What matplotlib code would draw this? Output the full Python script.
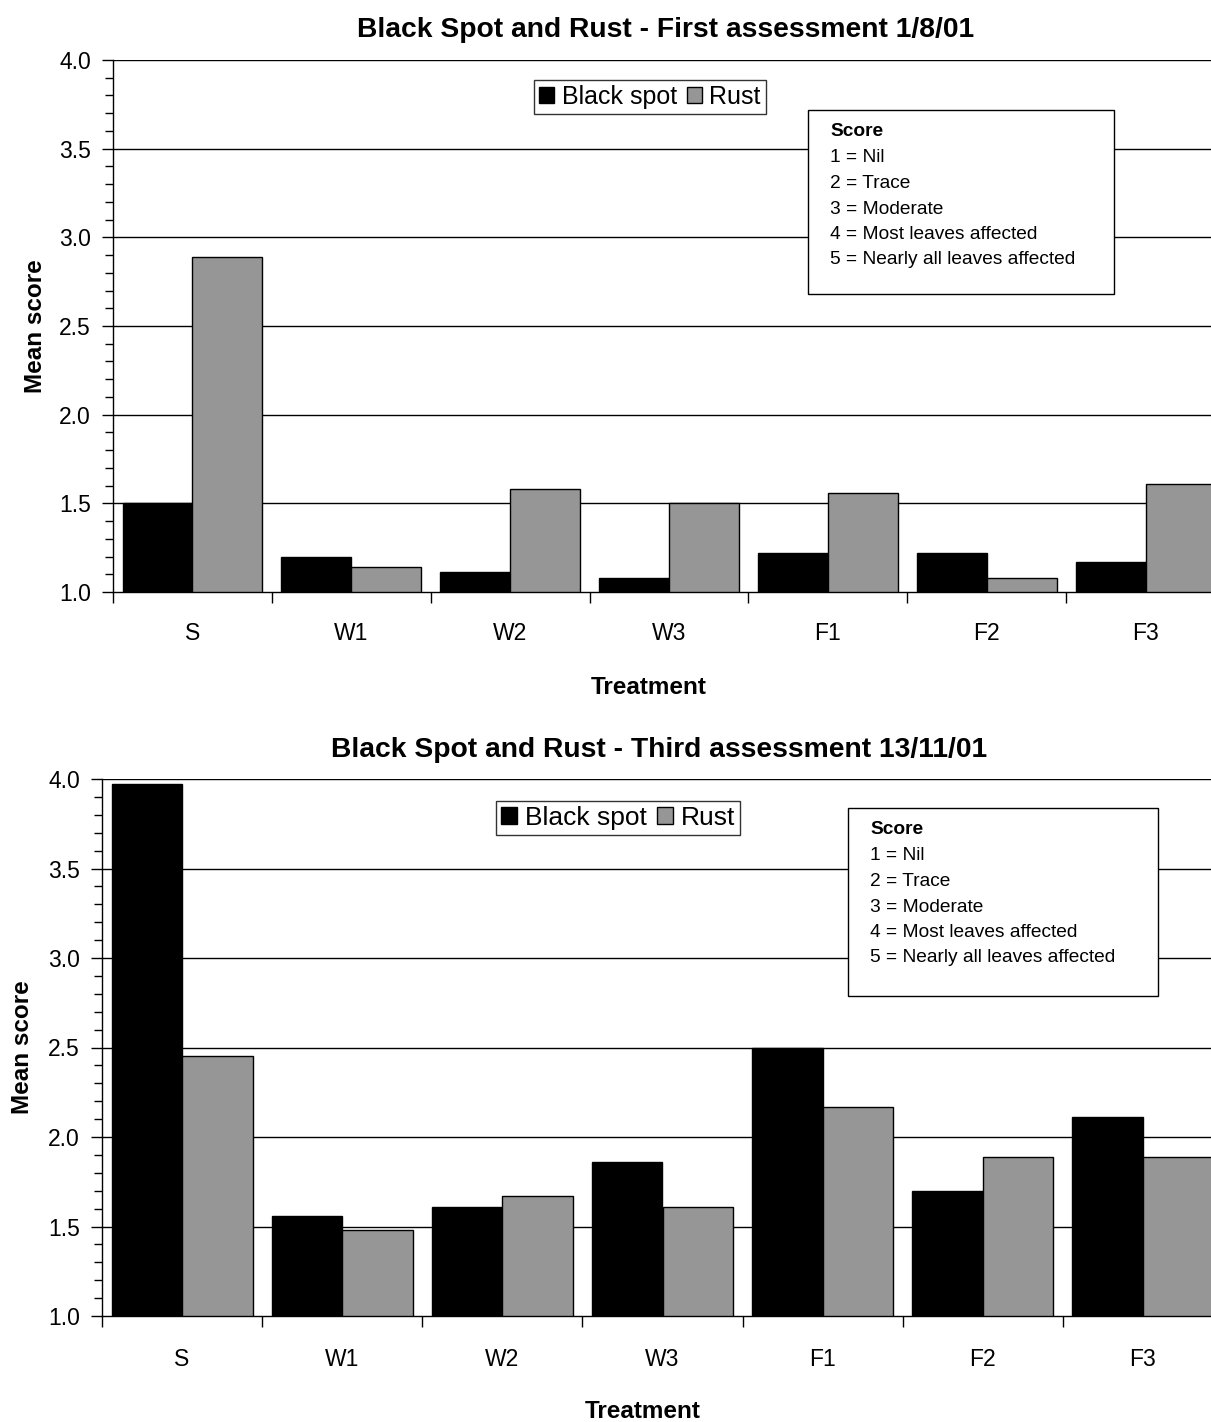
import matplotlib
matplotlib.use("Agg")
import matplotlib.pyplot as plt
import numpy as np
from matplotlib.patches import Rectangle, Patch
from matplotlib.ticker import MultipleLocator, FormatStrFormatter

plt.rcParams['font.family'] = ['Liberation Sans', 'DejaVu Sans']

treatments = ["S", "W1", "W2", "W3", "F1", "F2", "F3"]

first_black_spot = [1.50, 1.20, 1.11, 1.08, 1.22, 1.22, 1.17]
first_rust = [2.89, 1.14, 1.58, 1.50, 1.56, 1.08, 1.61]

third_black_spot = [3.97, 1.56, 1.61, 1.86, 2.50, 1.70, 2.11]
third_rust = [2.45, 1.48, 1.67, 1.61, 2.17, 1.89, 1.89]

score_lines = ["1 = Nil", "2 = Trace", "3 = Moderate",
               "4 = Most leaves affected", "5 = Nearly all leaves affected"]

W, H = 1211, 1422
fig = plt.figure(figsize=(W / 100, H / 100), dpi=100)


def fx(px):
    return px / W


def fy(py):
    return 1 - py / H


def draw_panel(rect, black, rust, title, legend_box, score_box, legend_fs,
               score_fs, ylabel_x, xlabel_y, title_y, xpad):
    left, top, right, bottom = rect
    ax = fig.add_axes([fx(left), fy(bottom), fx(right) - fx(left), fy(top) - fy(bottom)])
    x = np.arange(len(treatments))
    w = 0.44
    ax.bar(x - w / 2, np.array(black) - 1, w, bottom=1, color="black",
           edgecolor="black", linewidth=1.0, label="Black spot", zorder=3)
    ax.bar(x + w / 2, np.array(rust) - 1, w, bottom=1, color="#969696",
           edgecolor="black", linewidth=1.0, label="Rust", zorder=3)
    ax.set_xlim(-0.5, len(treatments) - 0.5)
    ax.set_ylim(1.0, 4.0)
    ax.yaxis.set_major_locator(MultipleLocator(0.5))
    ax.yaxis.set_minor_locator(MultipleLocator(0.1))
    ax.yaxis.set_major_formatter(FormatStrFormatter("%.1f"))
    ax.set_xticks(x)
    ax.set_xticklabels(treatments)
    ax.set_xticks(np.arange(len(treatments) + 1) - 0.5, minor=True)
    ax.tick_params(axis="x", which="major", length=0, pad=xpad, labelsize=16.5)
    ax.tick_params(axis="x", which="minor", length=8, width=1, direction="out")
    ax.tick_params(axis="y", which="major", length=8, width=1, direction="out",
                   labelsize=16.5, pad=8)
    ax.tick_params(axis="y", which="minor", length=6, width=1, direction="out")
    for v in np.arange(1.5, 4.01, 0.5):
        ax.axhline(v, color="black", linewidth=1.0, zorder=1)
    for s in ["top", "right"]:
        ax.spines[s].set_visible(False)
    ax.spines["left"].set_linewidth(1.0)
    ax.spines["bottom"].set_linewidth(1.0)

    fig.text(fx((left + right) / 2 - 3), fy(title_y), title, ha="center", va="center",
             fontsize=20.3, fontweight="bold")
    fig.text(fx(ylabel_x), fy((top + bottom) / 2), "Mean score", ha="center",
             va="center", rotation=90, fontsize=17.5, fontweight="bold")
    fig.text(fx((left + right) / 2 - 20), fy(xlabel_y), "Treatment", ha="center",
             va="center", fontsize=17.5, fontweight="bold")

    # series legend
    lx0, ly0, lx1, ly1 = legend_box
    handles = [Patch(facecolor="black", edgecolor="black"),
               Patch(facecolor="#969696", edgecolor="black")]
    leg = fig.legend(handles, ["Black spot", "Rust"], loc="center",
                     bbox_to_anchor=(fx((lx0 + lx1) / 2), fy((ly0 + ly1) / 2)),
                     ncol=2, fontsize=legend_fs, frameon=True, fancybox=False,
                     handlelength=0.6, handleheight=0.6, handletextpad=0.3,
                     columnspacing=0.4, borderpad=0.2, borderaxespad=0)
    leg.get_frame().set_edgecolor("black")
    leg.get_frame().set_linewidth(1.0)

    # score key
    sx0, sy0, sx1, sy1 = score_box
    fig.patches.append(Rectangle((fx(sx0), fy(sy1)), fx(sx1) - fx(sx0), fy(sy0) - fy(sy1),
                                 transform=fig.transFigure, facecolor="white",
                                 edgecolor="black", linewidth=1.0, zorder=5))
    tx = sx0 + 22
    fig.text(fx(tx), fy(sy0 + 21), "Score", ha="left", va="center",
             fontsize=score_fs, fontweight="bold", zorder=6)
    for i, line in enumerate(score_lines):
        fig.text(fx(tx), fy(sy0 + 48 + i * 25.5), line, ha="left", va="center",
                 fontsize=score_fs, zorder=6)
    return ax


draw_panel((113, 60, 1225, 592), first_black_spot, first_rust,
           "Black Spot and Rust - First assessment 1/8/01",
           (527, 80, 773, 114), (808, 110, 1114, 294), 18, 13.8,
           36, 688, 30, 21.5)
draw_panel((102, 779, 1223, 1316), third_black_spot, third_rust,
           "Black Spot and Rust - Third assessment 13/11/01",
           (493, 798, 743, 838), (848, 808, 1158, 996), 19, 13.8,
           23, 1412, 750, 23)

fig.savefig("out.png", dpi=100)
